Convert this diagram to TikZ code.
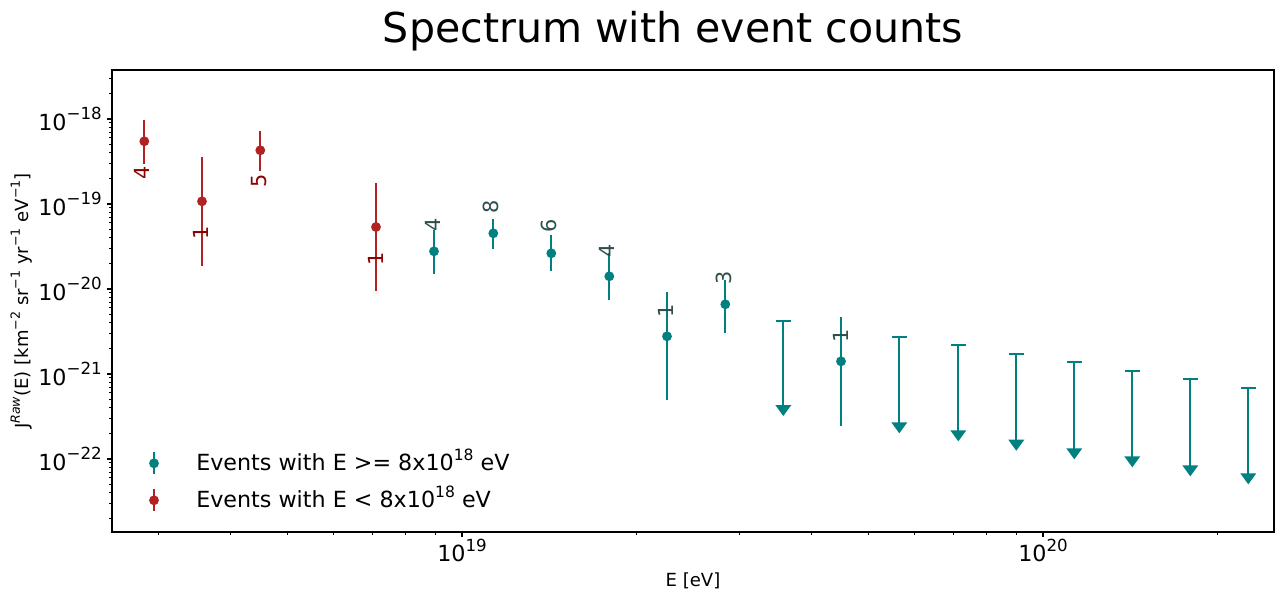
\documentclass[tikz,border=0pt]{standalone}
\usepackage{fontspec}
\setmainfont{DejaVu Sans}
\usepackage{graphicx}
\definecolor{mplteal}{HTML}{008080}
\definecolor{mplred}{HTML}{B22222}
\definecolor{dkred}{HTML}{8B0000}
\definecolor{dkslate}{HTML}{2F4F4F}
\newcommand\sps[1]{\raisebox{0.45em}{\scalebox{0.7}{#1}}}
\newcommand\tsps[1]{\raisebox{0.47em}{\scalebox{0.75}{#1}}}
\begin{document}
\begin{tikzpicture}[x=0.72pt,y=-0.72pt,
  ebar/.style={line width=1.7pt},
  cnt/.style={rotate=90,inner sep=0pt,font=\fontsize{15}{15}\selectfont},
  ticklab/.style={inner sep=0pt,font=\fontsize{16}{18}\selectfont},
  axlab/.style={inner sep=0pt,font=\fontsize{13}{15}\selectfont},
  leglab/.style={inner sep=0pt,anchor=base west,font=\fontsize{16}{18}\selectfont},
  majtick/.style={line width=0.8pt},
  mintick/.style={line width=0.6pt}]
\useasboundingbox (0,0) rectangle (1284,600);
\fill[white] (0,0) rectangle (1284,600);

% title
\node[inner sep=0pt,anchor=base,font=\fontsize{29.6}{32}\selectfont] (title) at (673,42.7) {Spectrum with event counts};

% red points: x, y, top, bottom
\foreach \x/\y/\t/\b in {144.3/141.3/120/164.3, 202/201.3/157.3/265.7, 260.3/150.3/131/170.7, 376/227/183.3/290.7}{
  \draw[ebar,mplred] (\x,\t) -- (\x,\b);
  \fill[mplred] (\x,\y) circle (3.55pt);
}
% teal points
\foreach \x/\y/\t/\b in {434/251.3/230/273.7, 493.3/233.3/219.3/248.7, 551.3/253.3/235/270.7, 609.3/276.3/253.3/299.7, 667/336.3/292.3/400, 725.3/304.3/280/332.7, 841/361.3/317.3/425.7}{
  \draw[ebar,mplteal] (\x,\t) -- (\x,\b);
  \fill[mplteal] (\x,\y) circle (3.55pt);
}
% upper limits: x, cap, tip
\foreach \x/\c/\t in {783.3/320.7/416, 899.3/337.3/433.3, 958.3/345.3/441.3, 1016.3/354.3/450.7, 1074.3/362.3/459.3, 1132.3/371.3/467.3, 1190.3/379.3/476.3, 1248.3/388.3/484.3}{
  \draw[ebar,mplteal] (\x,\c) -- (\x,\t-9);
  \draw[ebar,mplteal] (\x-7.3,\c) -- (\x+7.3,\c);
  \fill[mplteal] (\x,\t) -- (\x-8,\t-11) -- (\x+8,\t-11) -- cycle;
}

% counts
\node[cnt,text=dkred] (c1) at (142.2,172.5) {4};
\node[cnt,text=dkred] (c2) at (200.7,232.5) {1};
\node[cnt,text=dkred] (c3) at (258.8,181) {5};
\node[cnt,text=dkred] (c4) at (375.8,258.8) {1};
\node[cnt,text=dkslate] (c5) at (432.5,224.5) {4};
\node[cnt,text=dkslate] (c6) at (490.8,207) {8};
\node[cnt,text=dkslate] (c7) at (549,226) {6};
\node[cnt,text=dkslate] (c8) at (607,251) {4};
\node[cnt,text=dkslate] (c9) at (666,311) {1};
\node[cnt,text=dkslate] (c10) at (724,278) {3};
\node[cnt,text=dkslate] (c11) at (840.8,336) {1};

% legend
\draw[ebar,mplteal] (154,452.3) -- (154,474.3);
\fill[mplteal] (154,463.3) circle (3.55pt);
\draw[ebar,mplred] (154,489) -- (154,510.7);
\fill[mplred] (154,500.3) circle (3.55pt);
\node[leglab] (leg1) at (196,470) {Events with E >= 8x10\sps{18} eV};
\node[leglab] (leg2) at (196,507.3) {Events with E < 8x10\sps{18} eV};

% y ticks
\foreach \k/\lab in {-18/−18,-19/−19,-20/−20,-21/−21,-22/−22}{
  \pgfmathsetmacro\yy{119+85*(-18-\k)}
  \draw[majtick] (112,\yy) -- (107.1,\yy);
  \node[ticklab,anchor=base east] at (102,\yy+11.3) {10\tsps{\lab}};
}
\foreach \k in {-23,...,-18}{
  \foreach \m in {2,...,9}{
    \pgfmathsetmacro\yy{119+85*(-18-\k)-85*ln(\m)/ln(10)}
    \pgfmathtruncatemacro\ok{(\yy>70.5)&&(\yy<531.5)?1:0}
    \ifnum\ok=1 \draw[mintick] (112,\yy) -- (109.2,\yy);\fi
  }
}
% x ticks
\foreach \xx/\lab in {462/19,1043/20}{
  \draw[majtick] (\xx,532) -- (\xx,536.9);
  \node[ticklab,anchor=base] at (\xx,561.7) {10\tsps{\lab}};
}
\foreach \k in {18,19,20}{
  \foreach \m in {2,...,9}{
    \pgfmathsetmacro\xx{462+581*(\k-19)+581*ln(\m)/ln(10)}
    \pgfmathtruncatemacro\ok{(\xx>112.5)&&(\xx<1273.5)?1:0}
    \ifnum\ok=1 \draw[mintick] (\xx,532) -- (\xx,534.8);\fi
  }
}

% axis labels
\node[axlab,anchor=base] (xlab) at (693,586.7) {E [eV]};
\node[axlab,anchor=base,rotate=90] (ylab) at (28,301) {J\sps{\textit{Raw}}(E) [km\sps{−2} sr\sps{−1} yr\sps{−1} eV\sps{−1}]};

% frame
\draw[line width=0.8pt] (112,70) rectangle (1274,532);
\end{tikzpicture}
\end{document}
